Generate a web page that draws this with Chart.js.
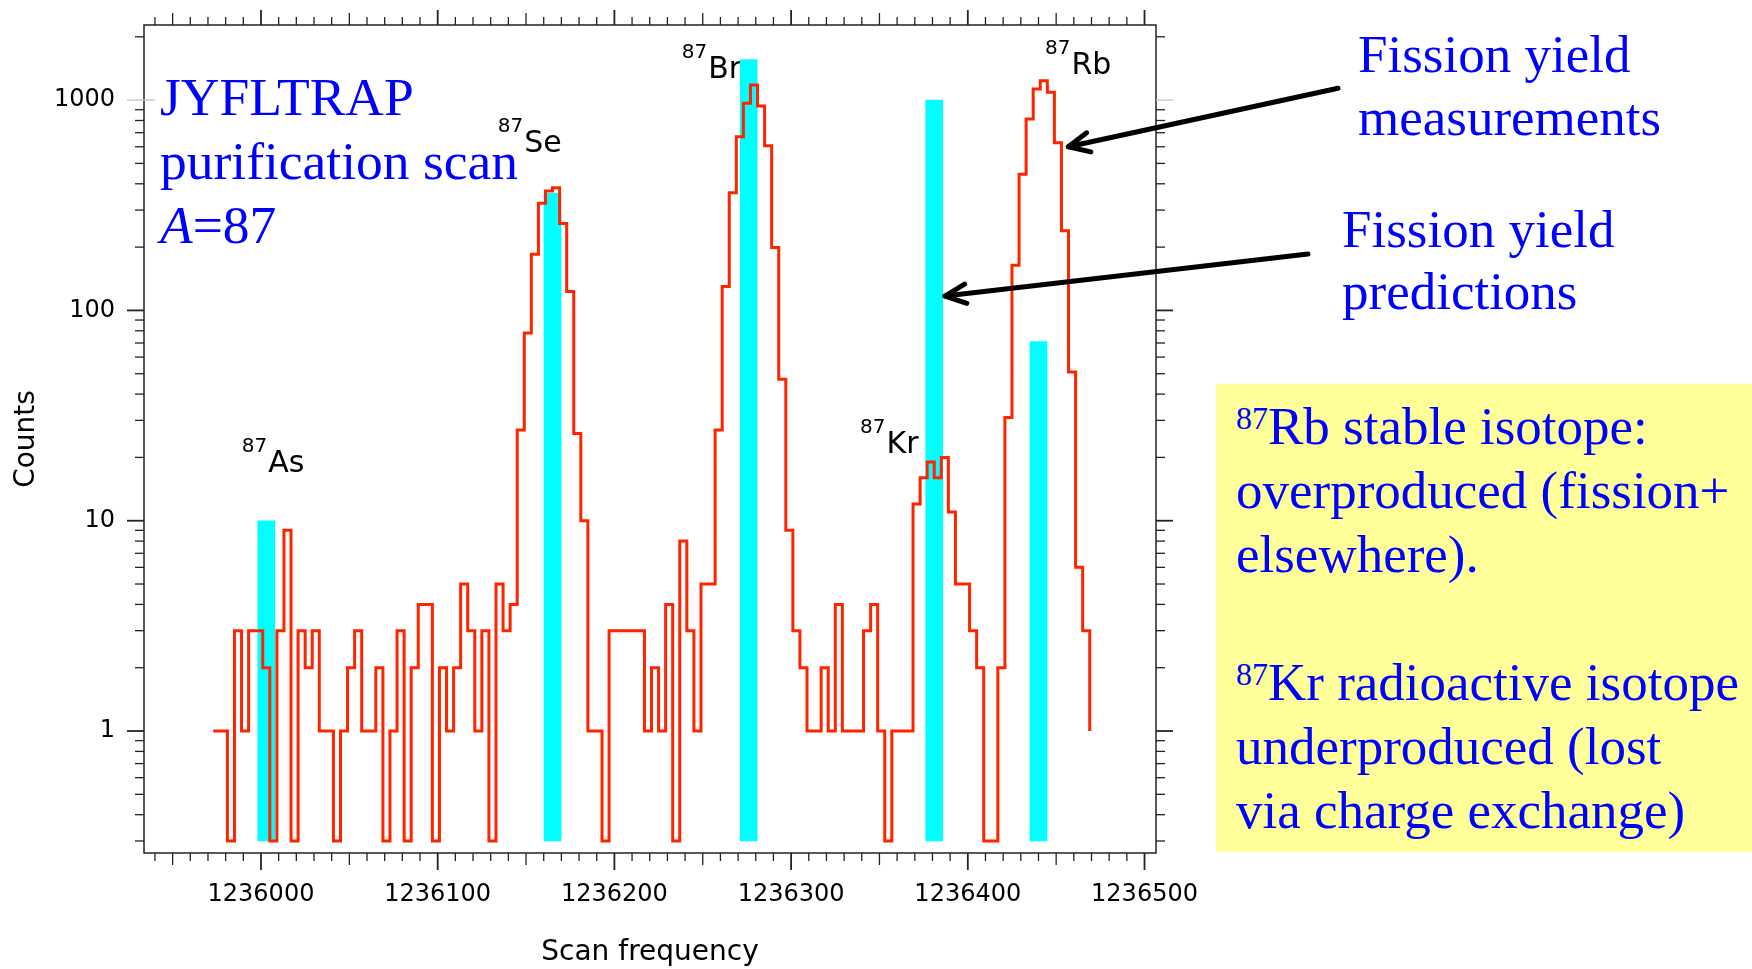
<!DOCTYPE html>
<html>
<head>
<meta charset="utf-8">
<title>JYFLTRAP purification scan, A=87</title>
<script src="https://cdn.jsdelivr.net/npm/chart.js@4.4.1/dist/chart.umd.min.js"></script>
<style>
  html, body { margin: 0; padding: 0; background: #ffffff; }
  #stage { position: relative; width: 1752px; height: 969px; overflow: hidden; }
  #chart { position: absolute; left: 0; top: 0; }
  .note {
    position: absolute;
    font-family: "Liberation Serif", "Times New Roman", serif;
    font-size: 53px;
    color: #0000ff;
    white-space: nowrap;
  }
  .note .sup { font-size: 32px; line-height: 0; position: relative; top: -15px; }
  #yieldBox { position: absolute; left: 1215.5px; top: 384px; width: 537px; height: 467.5px; background: #ffff99; }
</style>
</head>
<body>
<div id="stage">
  <canvas id="chart" width="1752" height="969"></canvas>

  <div class="note" style="left:160px; top:64.9px; font-size:53.5px; line-height:64px;">JYFLTRAP<br>purification scan<br><i>A</i>=87</div>
  <div class="note" style="left:1358px; top:22.6px; line-height:63px;">Fission yield<br>measurements</div>
  <div class="note" style="left:1342px; top:198.4px; line-height:62px;">Fission yield<br>predictions</div>

  <div id="yieldBox"></div>
  <div class="note" style="left:1236px; top:395.2px; line-height:63.9px;"><span class="sup">87</span>Rb stable isotope:<br>overproduced (fission+<br>elsewhere).<br><br><span class="sup">87</span>Kr radioactive isotope<br>underproduced (lost<br>via charge exchange)</div>
</div>

<script>
// ---- Measured scan: counts per 4 Hz frequency bin ----
const binStart = 1235973;   // Hz, left edge of the first bin
const binWidth = 4;         // Hz
const counts = [
  1, 1, 0, 3, 1, 3, 3, 2, 0, 3,
  9, 0, 3, 2, 3, 1, 1, 0, 1, 2,
  3, 1, 1, 2, 0, 1, 3, 0, 2, 4,
  4, 0, 2, 1, 2, 5, 3, 1, 3, 0,
  5, 3, 4, 27, 78, 185, 323, 370, 383, 259,
  123, 26, 10, 1, 1, 0, 3, 3, 3, 3,
  3, 1, 2, 1, 4, 0, 8, 3, 1, 5,
  5, 27, 130, 363, 670, 966, 1180, 937, 607, 199,
  47, 9, 3, 2, 1, 1, 2, 1, 4, 1,
  1, 1, 3, 4, 1, 0, 1, 1, 1, 12,
  16, 19, 16, 20, 11, 5, 5, 3, 2, 0,
  0, 2, 31, 164, 444, 813, 1130, 1237, 1089, 627,
  239, 51, 6, 3
];
const tailCount = 1;        // level the trace closes on after the last bin
const zeroFloor = 0.3;      // empty bins are drawn at this level on the log axis

// ---- Fission-yield predictions (cyan bars) ----
const isotopes = ['As', 'Se', 'Br', 'Kr', 'Rb'];
const massNumber = 87;
const predictionFreq = [1236003, 1236165, 1236276, 1236381, 1236440];
const predictionCounts = [10, 360, 1560, 1000, 71];

// ---- Axis ticks ----
const xTickValues = [1236000, 1236100, 1236200, 1236300, 1236400, 1236500];
const yTickValues = [1, 10, 100, 1000];

// ---- Layout / style ----
const X_MIN = 1235933.8, X_MAX = 1236506.5;
const Y_MIN = 0.263, Y_MAX = 2276;
const RED = 'rgb(255, 36, 0)';
const CYAN = '#00ffff';
const AXIS = '#222222';
const SANS = '"DejaVu Sans", Verdana, sans-serif';

// Isotope label anchors (left of the mass number, element baseline) in axis units
const labelAnchors = [
  { x: 1235989.1, y: 17.1 },
  { x: 1236134.0, y: 568 },
  { x: 1236238.1, y: 1270 },
  { x: 1236339.0, y: 20.9 },
  { x: 1236443.7, y: 1331 }
];
// Pointer arrows (tail -> tip) in axis units
const arrowPaths = [
  { from: { x: 1236609.5, y: 1138 }, to: { x: 1236456.9, y: 600 } },
  { from: { x: 1236592.5, y: 185.5 }, to: { x: 1236387.1, y: 117 } }
];

// Step-histogram points: each bin's level starts at its left edge
const histPoints = counts.map((c, i) => ({ x: binStart + i * binWidth, y: Math.max(c, zeroFloor) }));
histPoints.push({ x: binStart + counts.length * binWidth, y: tailCount });

const predPoints = predictionFreq.map((f, i) => ({ x: f, y: predictionCounts[i] }));

// Frame with outward ticks on all four sides
const frameTicks = {
  id: 'frameTicks',
  afterDatasetsDraw(chart) {
    const { ctx, chartArea: a, scales: { x, y } } = chart;
    ctx.save();
    ctx.strokeStyle = AXIS;
    ctx.lineWidth = 1.5;
    ctx.lineCap = 'butt';
    const seg = (x0, y0, x1, y1) => { ctx.beginPath(); ctx.moveTo(x0, y0); ctx.lineTo(x1, y1); ctx.stroke(); };

    ctx.strokeRect(a.left, a.top, a.right - a.left, a.bottom - a.top);

    for (let v = Math.ceil(x.min / 10) * 10; v <= x.max; v += 10) {
      const px = x.getPixelForValue(v);
      const major = v % 100 === 0, mid = v % 50 === 0;
      const lb = major ? 17 : mid ? 12 : 8;
      const lt = major ? 15 : mid ? 12 : 8;
      ctx.lineWidth = major ? 1.8 : 1.3;
      seg(px, a.bottom, px, a.bottom + lb);
      seg(px, a.top, px, a.top - lt);
    }

    for (let e = -1; e <= 3; e++) {
      for (let m = 1; m <= 9; m++) {
        const v = m * Math.pow(10, e);
        if (v < y.min || v > y.max) continue;
        const py = y.getPixelForValue(v);
        const decade = m === 1;
        if (decade && e === 3) {
          ctx.strokeStyle = '#c4c4c4';
          ctx.lineWidth = 1.3;
          seg(a.left - 17, py, a.left + 11, py);
          seg(a.right, py, a.right + 17, py);
          ctx.strokeStyle = AXIS;
          continue;
        }
        const len = decade ? 17 : 9;
        ctx.lineWidth = decade ? 1.8 : 1.3;
        seg(a.left - len, py, a.left, py);
        seg(a.right, py, a.right + len, py);
      }
    }
    ctx.restore();
  }
};

// Isotope names next to each peak (drawn beneath the bars)
const peakLabels = {
  id: 'peakLabels',
  beforeDatasetsDraw(chart) {
    const { ctx, scales: { x, y } } = chart;
    ctx.save();
    ctx.fillStyle = '#000000';
    ctx.textAlign = 'left';
    ctx.textBaseline = 'alphabetic';
    isotopes.forEach((el, i) => {
      const a = labelAnchors[i];
      const px = x.getPixelForValue(a.x);
      const py = y.getPixelForValue(a.y);
      const mass = String(massNumber);
      ctx.font = '20px ' + SANS;
      ctx.fillText(mass, px, py - 20);
      const w = ctx.measureText(mass).width;
      ctx.font = '30px ' + SANS;
      ctx.fillText(el, px + w + 1, py);
    });
    ctx.restore();
  }
};

// Black pointer arrows from the notes to the data
const pointerArrows = {
  id: 'pointerArrows',
  afterDraw(chart) {
    const { ctx, scales: { x, y } } = chart;
    ctx.save();
    ctx.strokeStyle = '#000000';
    ctx.lineWidth = 5;
    ctx.lineCap = 'round';
    ctx.lineJoin = 'round';
    arrowPaths.forEach(p => {
      const x0 = x.getPixelForValue(p.from.x), y0 = y.getPixelForValue(p.from.y);
      const x1 = x.getPixelForValue(p.to.x), y1 = y.getPixelForValue(p.to.y);
      const ang = Math.atan2(y1 - y0, x1 - x0);
      const L = 23, A = 25 * Math.PI / 180;
      ctx.beginPath();
      ctx.moveTo(x0, y0);
      ctx.lineTo(x1, y1);
      ctx.stroke();
      ctx.beginPath();
      ctx.moveTo(x1 - L * Math.cos(ang - A), y1 - L * Math.sin(ang - A));
      ctx.lineTo(x1, y1);
      ctx.lineTo(x1 - L * Math.cos(ang + A), y1 - L * Math.sin(ang + A));
      ctx.stroke();
    });
    ctx.restore();
  }
};

Chart.defaults.font.family = SANS;
Chart.defaults.color = '#000000';

new Chart(document.getElementById('chart'), {
  type: 'line',
  data: {
    datasets: [
      {
        type: 'line',
        label: 'Measured counts',
        data: histPoints,
        stepped: 'before',
        borderColor: RED,
        borderWidth: 3,
        borderJoinStyle: 'miter',
        pointRadius: 0,
        fill: false,
        order: 1
      },
      {
        type: 'bar',
        label: 'Predicted yield',
        data: predPoints,
        backgroundColor: CYAN,
        borderWidth: 0,
        barThickness: 17,
        base: zeroFloor,
        order: 2
      }
    ]
  },
  options: {
    responsive: false,
    animation: false,
    devicePixelRatio: 1,
    layout: { padding: { left: 0, top: 25, right: 596, bottom: 0 } },
    plugins: { legend: { display: false }, tooltip: { enabled: false } },
    scales: {
      x: {
        type: 'linear',
        position: 'bottom',
        min: X_MIN,
        max: X_MAX,
        bounds: 'data',
        offset: false,
        grid: { display: false, drawTicks: false },
        border: { display: false },
        afterBuildTicks: s => { s.ticks = xTickValues.map(v => ({ value: v })); },
        afterFit: s => { s.height = 116; s.paddingLeft = 0; s.paddingRight = 0; },
        ticks: {
          padding: 27,
          maxRotation: 0,
          autoSkip: false,
          color: '#000000',
          font: { family: SANS, size: 24 },
          callback: v => String(v)
        },
        title: {
          display: true,
          text: 'Scan frequency',
          color: '#000000',
          font: { family: SANS, size: 28 },
          padding: { top: 0, bottom: -1 }
        }
      },
      y: {
        type: 'logarithmic',
        position: 'left',
        min: Y_MIN,
        max: Y_MAX,
        bounds: 'data',
        grid: { display: false, drawTicks: false },
        border: { display: false },
        afterBuildTicks: s => { s.ticks = yTickValues.map(v => ({ value: v })); },
        afterFit: s => { s.width = 144; s.paddingTop = 0; s.paddingBottom = 0; },
        ticks: {
          padding: 29,
          autoSkip: false,
          color: '#000000',
          font: { family: SANS, size: 24 },
          callback: v => String(v)
        },
        title: {
          display: true,
          text: 'Counts',
          color: '#000000',
          font: { family: SANS, size: 28 },
          padding: { top: 9.5, bottom: 0 }
        }
      }
    }
  },
  plugins: [peakLabels, frameTicks, pointerArrows]
});
</script>
</body>
</html>
